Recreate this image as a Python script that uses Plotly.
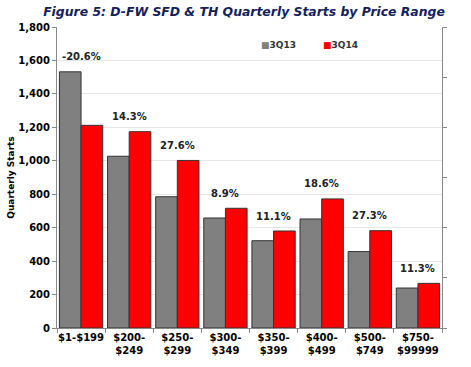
import plotly.graph_objects as go

categories = ["$1-$199", "$200-<br>$249", "$250-<br>$299", "$300-<br>$349",
              "$350-<br>$399", "$400-<br>$499", "$500-<br>$749", "$750-<br>$99999"]
starts_3q13 = [1532, 1027, 785, 658, 522, 652, 457, 239]
starts_3q14 = [1212, 1174, 1002, 716, 580, 772, 582, 267]
pct_labels = ["-20.6%", "14.3%", "27.6%", "8.9%", "11.1%", "18.6%", "27.3%", "11.3%"]
y_ticks = [0, 200, 400, 600, 800, 1000, 1200, 1400, 1600, 1800]

FONT = "DejaVu Sans"
GRAY = "#808080"
RED = "#FF0000"

fig = go.Figure()
fig.add_trace(go.Bar(x=categories, y=starts_3q13, name="3Q13",
                     marker=dict(color=GRAY, line=dict(color="#333333", width=1)),
                     showlegend=False))
fig.add_trace(go.Bar(x=categories, y=starts_3q14, name="3Q14",
                     marker=dict(color=RED, line=dict(color="#333333", width=1)),
                     showlegend=False))
# invisible trace to show the secondary (right) axis
fig.add_trace(go.Scatter(x=[categories[0]], y=[None], yaxis="y2",
                         showlegend=False, hoverinfo="skip"))

for c, a, b, t in zip(categories, starts_3q13, starts_3q14, pct_labels):
    fig.add_annotation(x=c, y=max(a, b), text="<b>%s</b>" % t, showarrow=False,
                       yshift=15, font=dict(family=FONT, size=10, color="#222222"))

# legend drawn as text
fig.add_annotation(xref="paper", yref="paper", x=0.525, y=0.94, showarrow=False,
                   xanchor="left", yanchor="middle",
                   text='<span style="color:%s">■</span><b>3Q13</b>' % GRAY,
                   font=dict(family=FONT, size=9, color="#333333"))
fig.add_annotation(xref="paper", yref="paper", x=0.685, y=0.94, showarrow=False,
                   xanchor="left", yanchor="middle",
                   text='<span style="color:%s">■</span><b>3Q14</b>' % RED,
                   font=dict(family=FONT, size=9, color="#333333"))

fig.update_layout(
    width=471, height=367,
    margin=dict(l=57, r=29, t=27, b=39),
    paper_bgcolor="white", plot_bgcolor="white",
    barmode="group", bargap=0.1, bargroupgap=0.0,
    title=dict(text="<b><i>Figure 5: D-FW SFD &amp; TH Quarterly Starts by Price Range</i></b>",
               x=244/471, xanchor="center", xref="container",
               y=1 - 12/367, yanchor="middle", yref="container",
               font=dict(family=FONT, size=12.4, color="#14215A")),
    font=dict(family=FONT, size=10, color="black"),
    xaxis=dict(showline=True, linecolor="#888888", linewidth=1,
               ticks="outside", tickson="boundaries", ticklen=4, tickcolor="#888888",
               tickmode="array", tickvals=categories,
               ticktext=["<b>%s</b>" % c for c in categories],
               tickangle=0, automargin=False,
               tickfont=dict(family=FONT, size=10, color="black"),
               showgrid=False),
    yaxis=dict(range=[0, 1800], tickvals=y_ticks,
               ticktext=["<b>{:,}</b>".format(v) for v in y_ticks],
               showline=True, linecolor="#888888", linewidth=1,
               ticks="outside", ticklen=4, tickcolor="#888888",
               showgrid=True, gridcolor="#E6E6E6", gridwidth=1,
               zeroline=False, automargin=False,
               tickfont=dict(family=FONT, size=10, color="black"),
               title=dict(text="<b>Quarterly Starts</b>", standoff=2,
                          font=dict(family=FONT, size=9, color="black"))),
    yaxis2=dict(overlaying="y", side="right", range=[0, 6], dtick=1,
                showline=True, linecolor="#888888", linewidth=1,
                ticks="outside", ticklen=4, tickcolor="#888888",
                showticklabels=False, showgrid=False, zeroline=False,
                automargin=False),
)

fig.write_html("out.html", config={"displayModeBar": False})

# remove the default page margin so the figure fills the window exactly
with open("out.html", "r", encoding="utf-8") as f:
    html = f.read()
html = html.replace("<body>", '<body style="margin:0;padding:0;overflow:hidden">', 1)
with open("out.html", "w", encoding="utf-8") as f:
    f.write(html)
